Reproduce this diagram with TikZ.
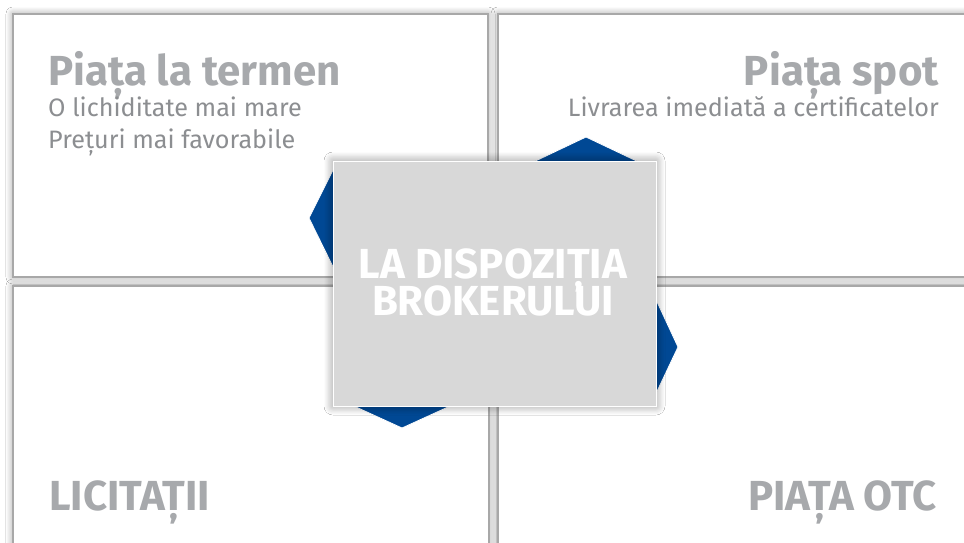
\documentclass[tikz,border=0pt]{standalone}
\usepackage{fontspec}
\setmainfont{Fira Sans}
\usetikzlibrary{shadows.blur}
\definecolor{bluefill}{RGB}{0,72,148}
\definecolor{boxborder}{RGB}{168,168,168}
\definecolor{titlegray}{RGB}{167,169,172}
\definecolor{subgray}{RGB}{140,142,145}
\definecolor{centergray}{RGB}{216,216,216}
\begin{document}
\begin{tikzpicture}[x=1pt,y=-1pt,
  panel/.style={draw=boxborder, line width=2pt, fill=white,
    blur shadow={shadow xshift=0pt, shadow yshift=0pt, shadow blur radius=7pt, shadow blur steps=10, shadow opacity=40}},
  centerbox/.style={draw=white, line width=1pt, fill=centergray,
    blur shadow={shadow xshift=0pt, shadow yshift=0pt, shadow blur radius=9pt, shadow blur steps=10, shadow opacity=45}},
  bluetip/.style={fill=bluefill, draw=white, line width=0.8pt, line join=miter},
  titletext/.style={inner sep=0pt, text=titlegray, font=\fontsize{42}{42}\selectfont\bfseries},
  subtext/.style={inner sep=0pt, text=subgray, font=\fontsize{25.2}{25.2}\selectfont},
  centertext/.style={inner sep=0pt, text=white, font=\fontsize{42}{42}\selectfont\bfseries}]
\fill[white] (0,0) rectangle (964,543);
\useasboundingbox (0,0) rectangle (964,543);
\clip (0,0) rectangle (964,543);
% panels
\path[panel] (13,14) rectangle (488,277);
\path[panel] (498,14) rectangle (980,277);
\path[panel] (13,286) rectangle (489,560);
\path[panel] (498,286) rectangle (980,560);
% blue tips behind centre box
\path[bluetip] (337,162) -- (309,218) -- (337,275) -- (360,395) -- (345,402) -- (402,428) -- (459,402) -- (430,300) -- cycle;
\path[bluetip] (527,165) -- (586,137) -- (645,165) -- (610,250) -- (652,291) -- (678,347) -- (652,402) -- (580,260) -- cycle;
% centre box
\path[centerbox] (333,161) rectangle (656,406);
% texts
\node[titletext, anchor=base west] (t1) at (48,85) {Piața la termen};
\node[subtext, anchor=base west] (s1) at (48,116) {O lichiditate mai mare};
\node[subtext, anchor=base west] (s2) at (48,148) {Prețuri mai favorabile};
\node[titletext, anchor=base east] (t2) at (939,85) {Piața spot};
\node[subtext, anchor=base east] (s3) at (939,116) {Livrarea imediată a certificatelor};
\node[titletext, anchor=base west] (t3) at (49,510) {LICITAȚII};
\node[titletext, anchor=base east] (t4) at (937,510) {PIAȚA OTC};
\node[centertext, anchor=base] (c1) at (493,278) {LA DISPOZIȚIA};
\node[centertext, anchor=base] (c2) at (493,315) {BROKERULUI};
\end{tikzpicture}
\end{document}
